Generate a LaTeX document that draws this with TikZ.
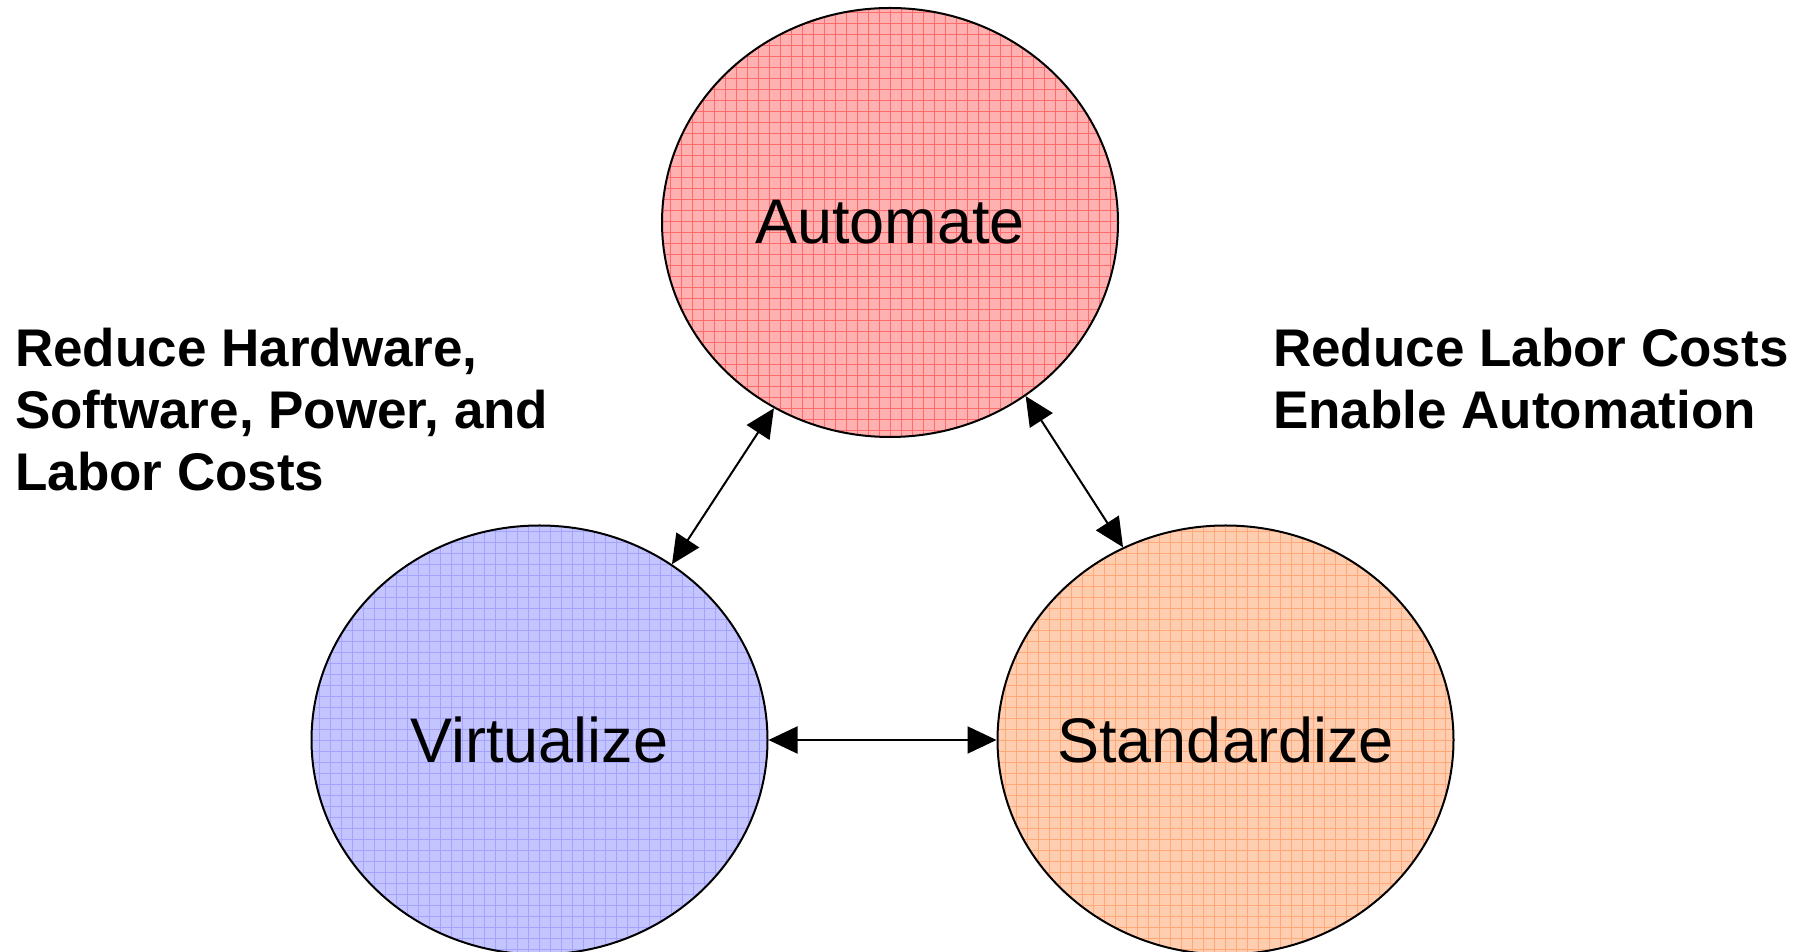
\documentclass[tikz,border=0pt]{standalone}
\usepackage{fontspec}
\setmainfont{Liberation Sans}
\usetikzlibrary{shapes.geometric,arrows.meta}

\definecolor{redbase}{HTML}{FFB0B0}
\definecolor{redgrid}{HTML}{FF6A6A}
\definecolor{bluebase}{HTML}{C4C4FF}
\definecolor{bluegrid}{HTML}{A4A4FF}
\definecolor{orangebase}{HTML}{FFCDB0}
\definecolor{orangegrid}{HTML}{FFA878}

\tikzset{
  bubble/.style={ellipse, draw=black, line width=2pt, inner sep=0pt,
    minimum width=456pt, minimum height=429pt,
    font=\fontsize{63}{75}\selectfont},
  gridfill/.style={fill=#1base,
    path picture={\draw[#1grid, line width=0.9pt]
      (path picture bounding box.south west) grid[step=11pt]
      (path picture bounding box.north east);}},
  link/.style={line width=2pt, {Triangle[length=29pt,width=27pt]}-{Triangle[length=29pt,width=27pt]}},
  benefit/.style={anchor=base west, align=left, inner sep=0pt,
    font=\bfseries\fontsize{53}{62}\selectfont}
}

% centred word that does not widen its ellipse
\newcommand{\bubbletext}[1]{\makebox[0pt][c]{#1}}

\begin{document}
\begin{tikzpicture}[x=1pt,y=1pt]
  \useasboundingbox (0,0) rectangle (1804,952);

  % the three practices
  \node[bubble, gridfill=red]    (A) at (890,729.5) {\bubbletext{Automate}};
  \node[bubble, gridfill=blue]   (V) at (539.5,212) {\bubbletext{Virtualize}};
  \node[bubble, gridfill=orange] (S) at (1225.5,212) {\bubbletext{Standardize}};

  % two-way links between them
  \draw[link] (A.238.3) -- (V.53.8);
  \draw[link] (A.308.3) -- (S.118.9);
  \draw[link] (V.-0.8) -- (S.180.8);

  % benefit labels (anchored at the baseline of the last line)
  \node[benefit] (LV) at (15,461) {Reduce Hardware,\\Software, Power, and\\Labor Costs};
  \node[benefit] (LS) at (1273,523) {Reduce Labor Costs\\Enable Automation};
\end{tikzpicture}
\end{document}
